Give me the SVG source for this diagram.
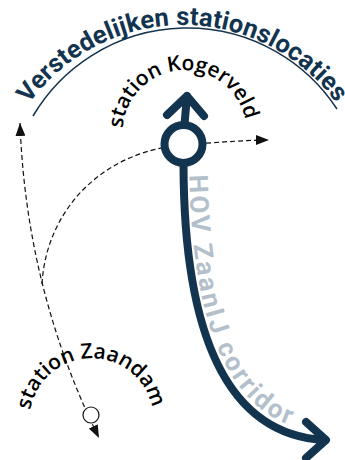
<svg xmlns="http://www.w3.org/2000/svg" width="345" height="460" viewBox="0 0 345 460">
<style>
.navy{stroke:#13344f;fill:none;stroke-linecap:round;stroke-linejoin:round}
.dash{stroke:#111;fill:none;stroke-width:1.2;stroke-dasharray:5 3}
.title{font-family:Roboto,"Liberation Sans",sans-serif;font-weight:700;font-size:25.5px;letter-spacing:0.12px;fill:#13344f}
.lbl{font-family:"Open Sans","Noto Sans",sans-serif;font-weight:600;font-size:21px;fill:#000}
.hov{font-family:Roboto,"Liberation Sans",sans-serif;font-weight:700;font-size:26px;fill:#b3bfcb;letter-spacing:2.5px}
</style>
<defs>
<marker id="tri" viewBox="0 0 13 10" refX="13" refY="5" markerWidth="13" markerHeight="10" markerUnits="userSpaceOnUse" orient="auto-start-reverse">
<path d="M0,0 L13,5 L0,10 z" fill="#111"/>
</marker>
<path id="titlePath" d="M29,103.8 A189.8,189.8 0 0 1 347.5,120.3"/>
<path id="kogPath" d="M122.75,128.2 A62,62 0 0 1 246.4,127.1"/>
<path id="zaaPath" d="M30.35,410.1 A62,62 0 0 1 152.56,409.5"/>
<path id="hovPath" d="M189,160 C190,325 228,427 325,432"/>
</defs>
<g id="title">
<path d="M33,116 A179,179 0 0 1 337,109" stroke="#13344f" stroke-width="1.5" fill="none"/>
<text class="title"><textPath href="#titlePath">Verstedelijken stationslocaties</textPath></text>
</g>
<g id="connectors">
<path class="dash" d="M20,123 Q26,290 99,438" marker-start="url(#tri)" marker-end="url(#tri)"/>
<path class="dash" d="M42,284 C46,212 100,152 182,145 C220,142 250,140 269,140" marker-end="url(#tri)"/>
</g>
<g id="hov-corridor">
<path class="navy" stroke-width="8" d="M183.5,165 C184,330 225,435 325,440"/>
<path class="navy" stroke-width="8" d="M306,422 L326,440 L306,458"/>
<text class="hov"><textPath href="#hovPath" startOffset="15">HOV ZaanIJ corridor</textPath></text>
</g>
<g id="station-kogerveld">
<path class="navy" stroke-width="8" d="M184.5,124 L187,96 M167,115 L187,96 L204,116"/>
<circle cx="183.5" cy="144" r="19" fill="#fff" stroke="#13344f" stroke-width="8"/>
<text class="lbl"><textPath href="#kogPath">station Kogerveld</textPath></text>
</g>
<g id="station-zaandam">
<circle cx="91" cy="415" r="8" fill="#fff" stroke="#111" stroke-width="1.2"/>
<text class="lbl"><textPath href="#zaaPath">station Zaandam</textPath></text>
</g>
</svg>
